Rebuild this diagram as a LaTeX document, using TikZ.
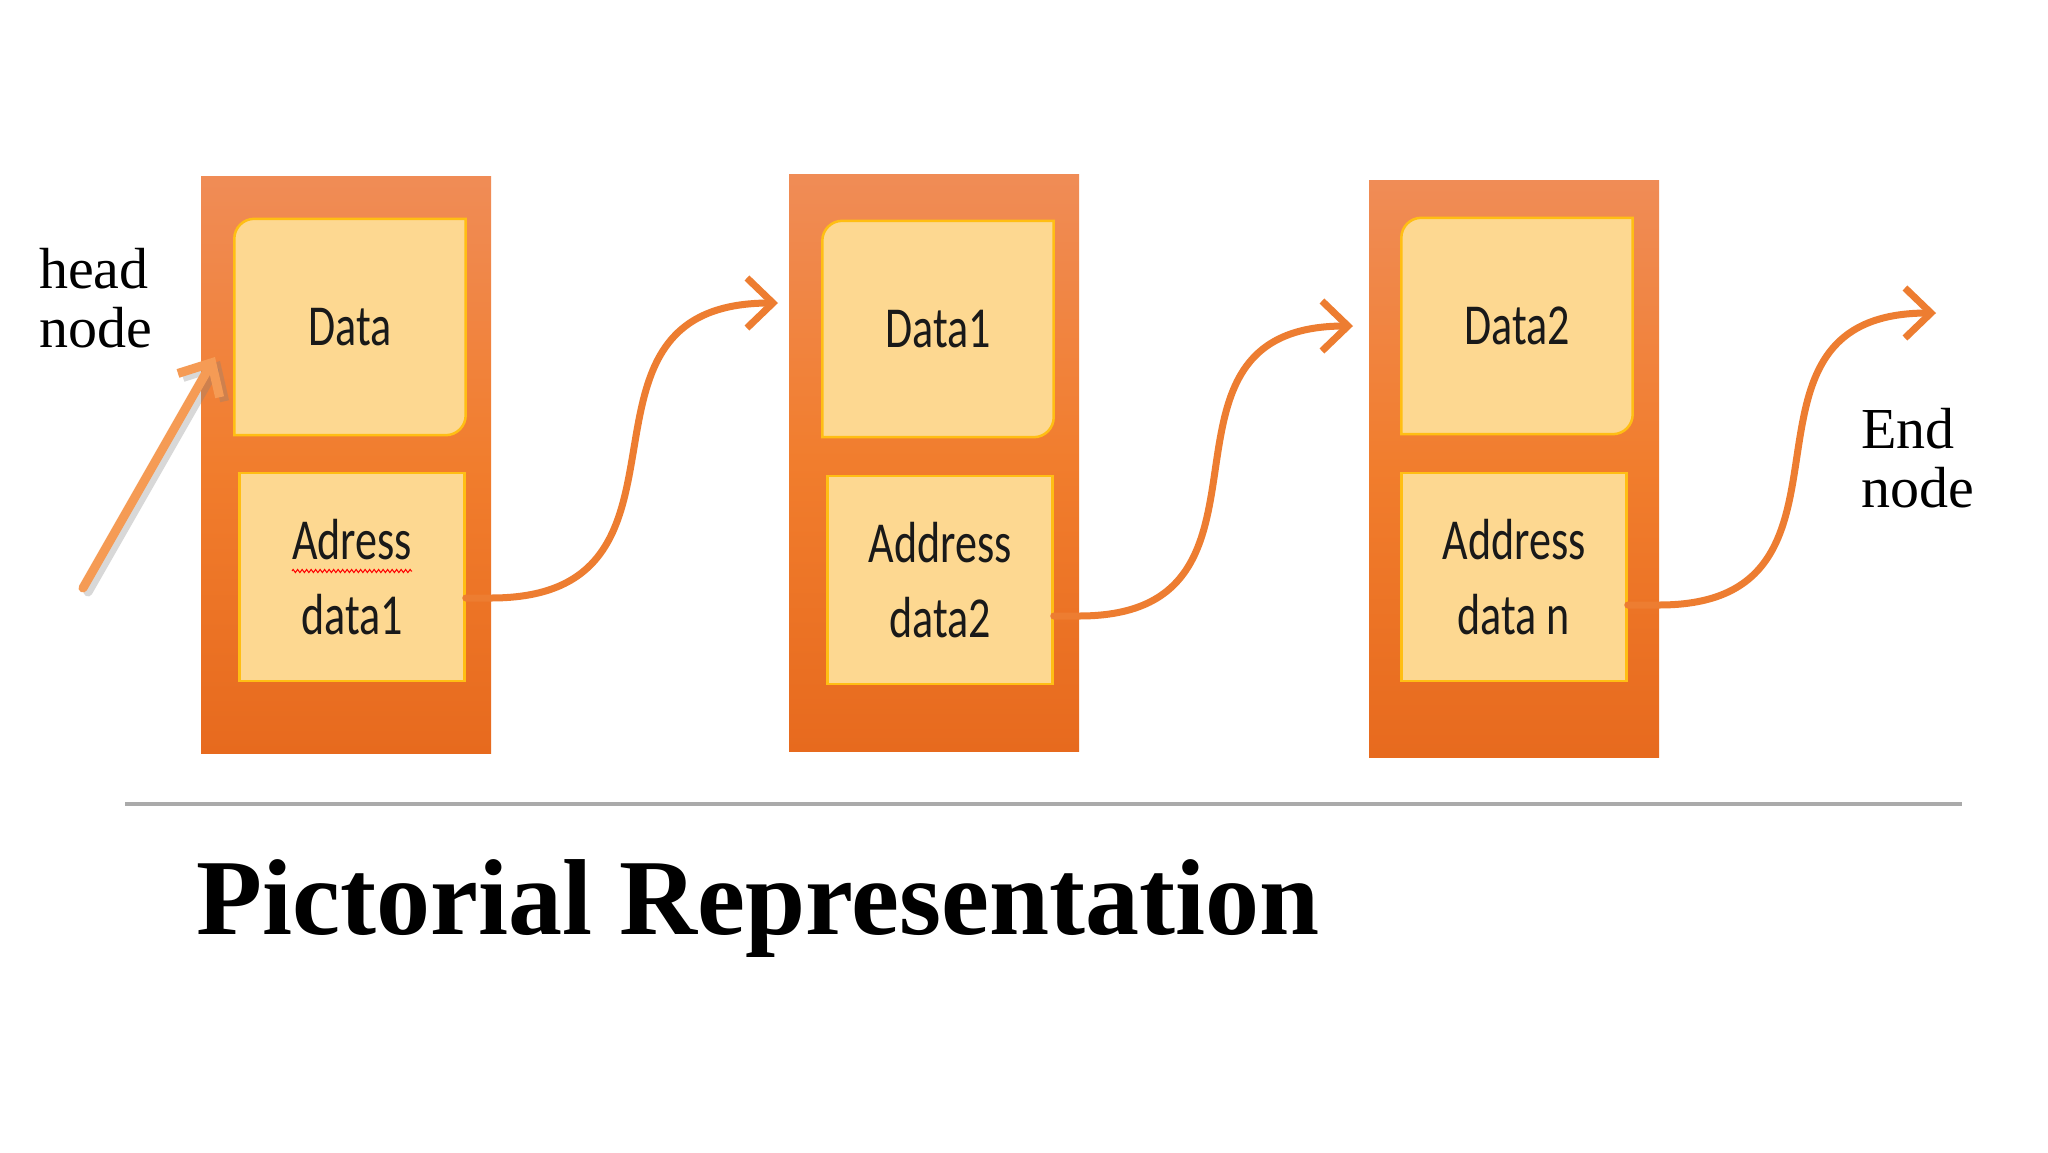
\documentclass[tikz,border=0pt]{standalone}
\usepackage{fontspec}
\newfontfamily\boxfont{Carlito}
\newfontfamily\seriffont{Liberation Serif}
\usetikzlibrary{arrows.meta,decorations.pathmorphing}

\definecolor{frametop}{RGB}{240,140,86}
\definecolor{framemid}{RGB}{241,125,45}
\definecolor{framebot}{RGB}{231,106,30}
\definecolor{fieldfill}{RGB}{253,216,145}
\definecolor{fieldline}{RGB}{255,190,20}
\definecolor{linkorange}{RGB}{237,125,49}
\definecolor{headorange}{RGB}{245,155,85}
\definecolor{rulegray}{RGB}{170,170,170}

\tikzset{
  frame/.style={minimum width=290pt, minimum height=577pt, inner sep=0pt,
    top color=frametop, bottom color=framebot, middle color=framemid},
  datafield/.style={minimum width=231pt, minimum height=216pt, inner sep=0pt},
  datashape/.style={draw=fieldline, line width=2.5pt, fill=fieldfill},
  addrfield/.style={draw=fieldline, line width=2.5pt, fill=fieldfill,
    minimum width=225pt, minimum height=208pt, inner sep=0pt},
  fieldtext/.style={font=\boxfont\fontsize{58}{75}\selectfont, align=center,
    xscale=0.76, inner sep=0pt, text=black!90},
  sidetext/.style={font=\seriffont\fontsize{58}{59}\selectfont, align=left,
    anchor=north west, inner sep=0pt},
  link/.style={draw=linkorange, line width=7pt, line cap=round,
    -{Straight Barb[length=26pt,width=50pt]}}
}

\begin{document}
\begin{tikzpicture}[x=1pt,y=-1pt]
    \fill[white] (0,0) rectangle (2048,1152);
    \useasboundingbox (0,0) rectangle (2048,1152);

    % outer frames
    \node[frame] (f1) at (346,465) {};
    \node[frame] (f2) at (934,463) {};
    \node[frame] (f3) at (1514,469) {};

    % data fields
    \node[datafield] (d1) at (350,327) {};
    \node[datafield] (d2) at (938,329) {};
    \node[datafield] (d3) at (1517,326) {};
    \foreach \d in {d1,d2,d3}
        \draw[datashape] (\d.south west) -- ([yshift=-20pt]\d.north west)
            arc[start angle=180, end angle=90, radius=20pt] -- (\d.north east)
            -- ([yshift=20pt]\d.south east)
            arc[start angle=0, end angle=-90, radius=20pt] -- cycle;

    % address fields
    \node[addrfield] (a1) at (352,577) {};
    \node[addrfield] (a2) at (940,580) {};
    \node[addrfield] (a3) at (1514,577) {};

    \node[fieldtext] (t1) at (d1) {Data};
    \node[fieldtext] (t2) at (d2) {Data1};
    \node[fieldtext] (t3) at (d3) {Data2};
    \node[fieldtext] (t4) at (a1) {Adress\\data1};
    \node[fieldtext] (t5) at (a2) {Address\\data2};
    \node[fieldtext] (t6) at (a3) {Address\\data n};

    % spelling squiggle under Adress
    \draw[red, line width=1pt, decorate,
        decoration={zigzag, amplitude=1.6pt, segment length=4.5pt}]
        (292,571) -- (412,571);

    % labels
    \node[sidetext] (head) at (39,248) {head\\node};
    \node[sidetext] (endlbl) at (1861,408) {End\\node};

    % head pointer
    \coordinate (hs) at (83,588);
    \coordinate (ht) at (215,357);
    \draw[draw=gray, opacity=0.3, line width=9pt, line cap=round,
        -{Straight Barb[length=26pt,width=48pt]}]
        ([shift={(5pt,-4pt)}]hs) -- ([shift={(5pt,-4pt)}]ht);
    \draw[draw=headorange, line width=9pt, line cap=round,
        -{Straight Barb[length=26pt,width=48pt]}] (hs) -- (ht);

    % links
    \coordinate (s1) at ([yshift=-21pt]a1.east);
    \coordinate (s2) at ([yshift=-36pt]a2.east);
    \coordinate (s3) at ([yshift=-28pt]a3.east);
    \coordinate (e1) at (778,303);
    \coordinate (e2) at (1353,326);
    \coordinate (e3) at (1936,313);
    \draw[link] (s1) -- (s1 -| f1.east) to[out=0, in=180, looseness=1.45] (e1);
    \draw[link] (s2) -- (s2 -| f2.east) to[out=0, in=180, looseness=1.45] (e2);
    \draw[link] (s3) -- (s3 -| f3.east) to[out=0, in=180, looseness=1.45] (e3);

    % rule and title
    \draw[rulegray, line width=4pt] (125,804) -- (1962,804);
    \node[anchor=base west, inner sep=0pt,
        font=\seriffont\bfseries\fontsize{108}{108}\selectfont] (title) at (196,934)
        {Pictorial Representation};
\end{tikzpicture}
\end{document}
